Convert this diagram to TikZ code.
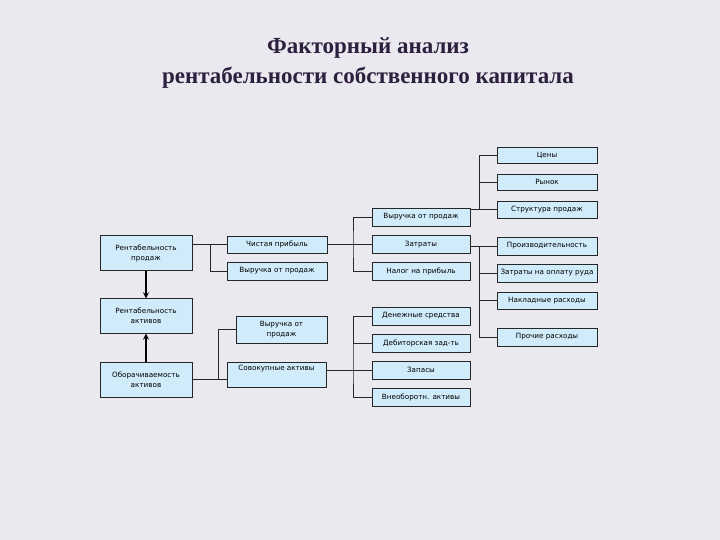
\documentclass[tikz,border=0pt]{standalone}
\usepackage{fontspec}
\setmainfont{DejaVu Sans}
\newfontfamily\titlefont{Liberation Serif}
\definecolor{bgcol}{RGB}{235,233,240}
\definecolor{boxblue}{RGB}{208,235,250}
\definecolor{titlecol}{RGB}{45,32,62}
\begin{document}
\begin{tikzpicture}[
  x=1pt, y=-1pt,
  box/.style={draw=black!85, fill=boxblue, inner sep=1pt, align=center,
    font=\fontsize{7.2}{10}\selectfont},
  bigbox/.style={box, minimum width=92pt, minimum height=35pt},
  smallbox/.style={box, minimum width=100pt, minimum height=17pt},
  midbox/.style={box, minimum width=98pt, minimum height=18pt},
  link/.style={draw=black!85, line width=0.7pt},
  >=stealth
]
  \fill[bgcol] (0,0) rectangle (720,540);
  \useasboundingbox (0,0) rectangle (720,540);

  \node[font=\titlefont\bfseries\fontsize{23}{30}\selectfont, text=titlecol, align=center]
    (title) at (368,63) {Факторный анализ\\рентабельности собственного капитала};

  % Левый столбец
  \node[bigbox] (rp) at (146,253) {Рентабельность\\продаж};
  \node[bigbox] (ra) at (146,316) {Рентабельность\\активов};
  \node[bigbox] (oa) at (146,379.5) {Оборачиваемость\\активов};
  \draw[->, line width=1.6pt] (rp) -- (ra);
  \draw[->, line width=1.6pt] (oa) -- (ra);

  % Второй столбец
  \node[smallbox] (chp) at (277,244.5) {Чистая прибыль};
  \node[smallbox, minimum height=18pt] (vp1) at (277,271) {Выручка от продаж};
  \node[box, minimum width=91pt, minimum height=27pt] (vp2) at (281.5,329.5) {Выручка от\\продаж};
  \node[box, minimum width=99pt, text height=6pt, text depth=15pt, inner ysep=2pt]
    (sa) at (276.5,374.5) {Совокупные активы};
  \coordinate (j1) at (210,244);
  \coordinate (j2) at (218,379);
  \draw[link] (rp.east |- chp) -- (chp.west);
  \draw[link] (j1) |- (vp1.west);
  \draw[link] (oa.east |- j2) -- (sa.west |- j2);
  \draw[link] (j2) |- (vp2.west);

  % Третий столбец
  \node[midbox] (vp3) at (421,217) {Выручка от продаж};
  \node[midbox] (zt) at (421,244.5) {Затраты};
  \node[midbox] (np) at (421,271.5) {Налог на прибыль};
  \node[midbox] (ds) at (421,316) {Денежные средства};
  \node[midbox] (dz) at (421,343.5) {Дебиторская зад-ть};
  \node[midbox] (zp) at (421,370) {Запасы};
  \node[midbox] (vo) at (421,397) {Внеоборотн. активы};
  \coordinate (j3a) at (353,244.5);
  \coordinate (j3b) at (353,370);
  \draw[link] (chp.east) -- (zt.west);
  \draw[link] (vp3.west) -| (j3a) |- (np.west);
  \draw[link] (sa.east |- zp) -- (zp.west);
  \draw[link] (ds.west) -| (j3b) |- (vo.west);
  \draw[link] (j3b |- dz) -- (dz.west);

  % Четвёртый столбец
  \node[smallbox, minimum height=16pt] (cn) at (547,155) {Цены};
  \node[smallbox, minimum height=16pt] (rn) at (547,182) {Рынок};
  \node[smallbox] (sp) at (547,209.5) {Структура продаж};
  \node[smallbox, minimum height=18pt] (pr) at (547,246) {Производительность};
  \node[smallbox, minimum height=18pt] (zo) at (547,273) {Затраты на оплату руда};
  \node[smallbox] (nr) at (547,300.5) {Накладные расходы};
  \node[smallbox, minimum height=18pt] (pcr) at (547,337) {Прочие расходы};
  \coordinate (j4a) at (479,209.5);
  \coordinate (j4b) at (479,246);
  \draw[link] (vp3.east |- sp) -- (sp.west);
  \draw[link] (cn.west) -| (j4a);
  \draw[link] (j4a |- rn) -- (rn.west);
  \draw[link] (zt.east |- pr) -- (pr.west);
  \draw[link] (j4b) |- (pcr.west);
  \draw[link] (j4b |- zo) -- (zo.west);
  \draw[link] (j4b |- nr) -- (nr.west);
\end{tikzpicture}
\end{document}
